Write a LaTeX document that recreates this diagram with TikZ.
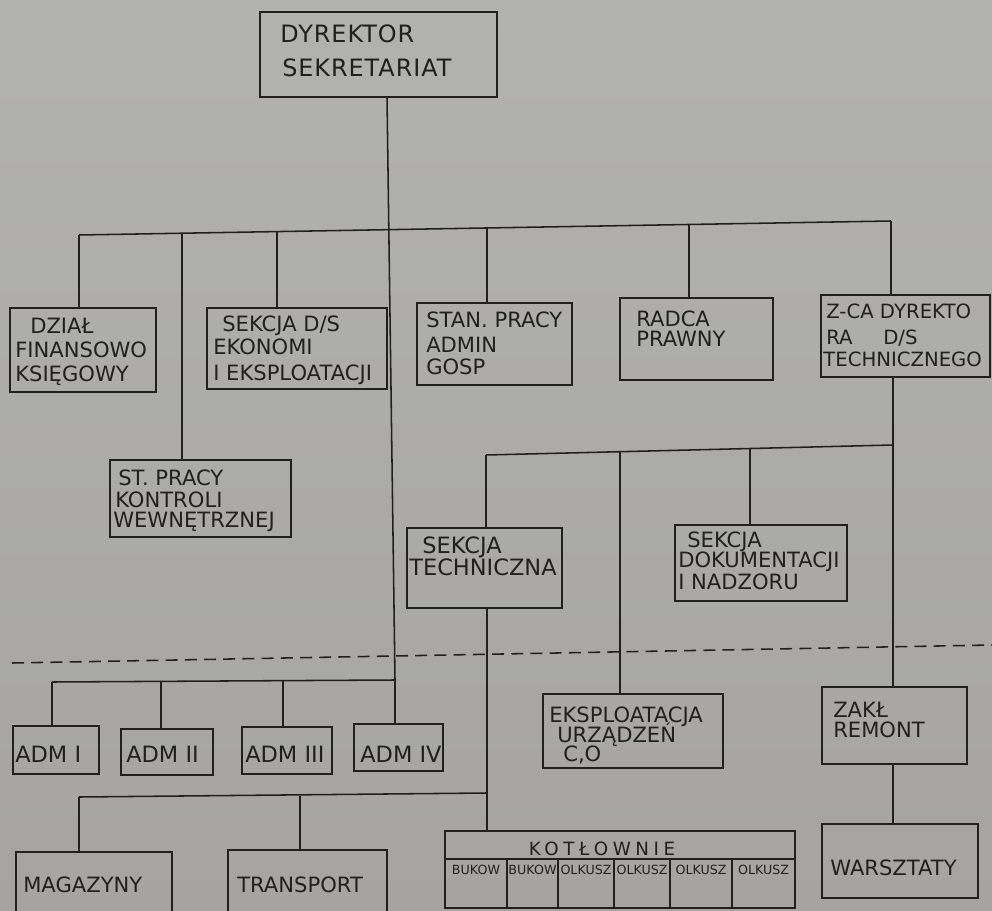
\documentclass[tikz,border=0pt]{standalone}
\usepackage{fontspec}
\setmainfont{DejaVu Sans}
\usetikzlibrary{fit}
\definecolor{papertop}{RGB}{178,178,176}
\definecolor{paperbot}{RGB}{165,164,162}
\definecolor{ink}{RGB}{32,32,32}
\begin{document}
\begin{tikzpicture}[x=0.025cm,y=-0.025cm,
  box/.style={draw=ink, line width=1.1pt, inner sep=0pt},
  wire/.style={draw=ink, line width=1.1pt},
  lbl/.style={text=ink, inner sep=0pt, anchor=base west, font=\fontsize{15}{18}\selectfont},
  big/.style={font=\fontsize{17}{20}\selectfont\addfontfeature{LetterSpace=4}},
  adm/.style={font=\fontsize{16}{19}\selectfont},
  mid/.style={font=\fontsize{14}{17}\selectfont},
  wide/.style={font=\fontsize{16}{19}\selectfont},
  tiny/.style={text=ink, inner sep=0pt, anchor=base, font=\fontsize{9}{10}\selectfont}]
\useasboundingbox (0,0) rectangle (992,911);
\fill[top color=papertop, bottom color=paperbot] (0,0) rectangle (992,911);
\clip (0,0) rectangle (992,911);

% ---------- boxes ----------
\node[box, fit={(260,12)(497,97)}] (dyr) {};
\node[box, fit={(10,308)(156,392)}] (dzial) {};
\node[box, fit={(207,308)(387,389)}] (sekD) {};
\node[box, fit={(417,303)(572,385)}] (stan) {};
\node[box, fit={(620,298)(773,380)}] (radca) {};
\node[box, fit={(821,295)(990,377)}] (zca) {};
\node[box, fit={(110,460)(291,537)}] (stp) {};
\node[box, fit={(407,528)(562,608)}] (sekT) {};
\node[box, fit={(675,525)(847,601)}] (sekDok) {};
\node[box, fit={(13,726)(99,774)}] (adm1) {};
\node[box, fit={(121,729)(213,775)}] (adm2) {};
\node[box, fit={(242,727)(332,774)}] (adm3) {};
\node[box, fit={(354,724)(443,771)}] (adm4) {};
\node[box, fit={(543,694)(723,768)}] (eksp) {};
\node[box, fit={(822,687)(967,764)}] (zakl) {};
\node[box, fit={(16,852)(172,925)}] (mag) {};
\node[box, fit={(228,850)(387,925)}] (trans) {};
\node[box, fit={(445,831)(795,908)}] (kotl) {};
\node[box, fit={(822,824)(978,898)}] (warsz) {};

% kotlownie inner divisions
\draw[wire] (kotl.west |- 0,859) -- (kotl.east |- 0,859);
\foreach \xx in {507,558,614,670,732} \draw[wire] (\xx,859) -- (\xx,908);

% ---------- texts ----------
\node[lbl,big] (dyrA) at (280,43) {DYREKTOR};
\node[lbl,big] (dyrB) at (282,77) {SEKRETARIAT};

\node[lbl] (dzA) at (30,334) {DZIAŁ};
\node[lbl] (dzB) at (15,358) {FINANSOWO};
\node[lbl] (dzC) at (15,382) {KSIĘGOWY};

\node[lbl] (skA) at (222,332) {SEKCJA D/S};
\node[lbl] (skB) at (213,355) {EKONOMI};
\node[lbl] (skC) at (213,380) {I EKSPLOATACJI};

\node[lbl] (stA) at (426,328) {STAN. PRACY};
\node[lbl] (stB) at (426,353) {ADMIN};
\node[lbl] (stC) at (426,375) {GOSP};

\node[lbl] (rdA) at (636,327) {RADCA};
\node[lbl] (rdB) at (636,347) {PRAWNY};

\node[lbl,mid] (zcA) at (826,319) {Z-CA DYREKTO};
\node[lbl,mid] (zcB) at (826,345) {RA};
\node[lbl,mid] (zcC) at (883,345) {D/S};
\node[lbl,mid] (zcD) at (823,366) {TECHNICZNEGO};

\node[lbl] (kwA) at (118,485) {ST. PRACY};
\node[lbl] (kwB) at (115,507) {KONTROLI};
\node[lbl] (kwC) at (113,527) {WEWNĘTRZNEJ};

\node[lbl,wide] (tcA) at (422,553) {SEKCJA};
\node[lbl,wide] (tcB) at (409,575) {TECHNICZNA};

\node[lbl] (dkA) at (687,547) {SEKCJA};
\node[lbl] (dkB) at (678,567) {DOKUMENTACJI};
\node[lbl] (dkC) at (678,589) {I NADZORU};

\node[lbl,adm] (a1t) at (15,762) {ADM I};
\node[lbl,adm] (a2t) at (126,762) {ADM II};
\node[lbl,adm] (a3t) at (245,762) {ADM III};
\node[lbl,adm] (a4t) at (360,762) {ADM IV};

\node[lbl] (ekA) at (549,722) {EKSPLOATACJA};
\node[lbl] (ekB) at (557,742) {URZĄDZEŃ};
\node[lbl] (ekC) at (563,761) {C,O};

\node[lbl] (zkA) at (833,717) {ZAKŁ};
\node[lbl] (zkB) at (833,737) {REMONT};

\node[lbl] (mgA) at (23,892) {MAGAZYNY};
\node[lbl] (trA) at (237,892) {TRANSPORT};
\node[lbl] (wsA) at (830,875) {WARSZTATY};

\node[text=ink, inner sep=0pt, anchor=base, font=\fontsize{13}{15}\selectfont\addfontfeature{LetterSpace=25}] (ktA) at (602,855) {KOTŁOWNIE};
\node[tiny] (k1) at (476,874) {BUKOW};
\node[tiny] (k2) at (532.5,874) {BUKOW};
\node[tiny] (k3) at (586,874) {OLKUSZ};
\node[tiny] (k4) at (642,874) {OLKUSZ};
\node[tiny] (k5) at (701,874) {OLKUSZ};
\node[tiny] (k6) at (763.5,874) {OLKUSZ};

% ---------- connectors ----------
% main bar under the director
\coordinate (b0) at (79,235);
\coordinate (b1) at (182,233.2);
\coordinate (b2) at (277,231.6);
\coordinate (b4) at (487,228);
\coordinate (b5) at (689,224.5);
\coordinate (b6) at (891,221);
\draw[wire] (b0) -- (b6);
\draw[wire] (b0) -- (b0 |- dzial.north);
\draw[wire] (b1) -- (b1 |- stp.north);
\draw[wire] (b2) -- (b2 |- sekD.north);
\draw[wire] (b4) -- (b4 |- stan.north);
\draw[wire] (b5) -- (b5 |- radca.north);
\draw[wire] (b6) -- (b6 |- zca.north);

% director trunk down to ADM IV
\coordinate (t0) at (387,97);
\coordinate (t4) at (395,680);
\draw[wire] (t0) -- (t4) -- (t4 |- adm4.north);
\coordinate (a1) at (52,682);
\coordinate (a2) at (161,681);
\coordinate (a3) at (283,680.5);
\draw[wire] (a1) -- (t4);
\draw[wire] (a1) -- (a1 |- adm1.north);
\draw[wire] (a2) -- (a2 |- adm2.north);
\draw[wire] (a3) -- (a3 |- adm3.north);

% deputy director trunk
\coordinate (z0) at (893,445);
\draw[wire] (zca.south -| z0) -- (z0 |- zakl.north);
\coordinate (c1) at (486,455);
\coordinate (c2) at (620,451.5);
\coordinate (c3) at (750,448.5);
\draw[wire] (z0) -- (c1);
\draw[wire] (c1) -- (c1 |- sekT.north);
\draw[wire] (c2) -- (c2 |- eksp.north);
\draw[wire] (c3) -- (c3 |- sekDok.north);
\draw[wire] (zakl.south -| z0) -- (z0 |- warsz.north);

% technical section down to boiler houses
\coordinate (m0) at (487,793);
\coordinate (m1) at (79,797);
\coordinate (m2) at (300,796);
\draw[wire] (sekT.south -| m0) -- (m0 |- kotl.north);
\draw[wire] (m1) -- (m0);
\draw[wire] (m1) -- (m1 |- mag.north);
\draw[wire] (m2) -- (m2 |- trans.north);

% dashed separator
\coordinate (d1) at (12,663);
\coordinate (d2) at (992,645);
\draw[ink, line width=1.1pt, dash pattern=on 3mm off 1.8mm] (d1) -- (d2);
\end{tikzpicture}
\end{document}
